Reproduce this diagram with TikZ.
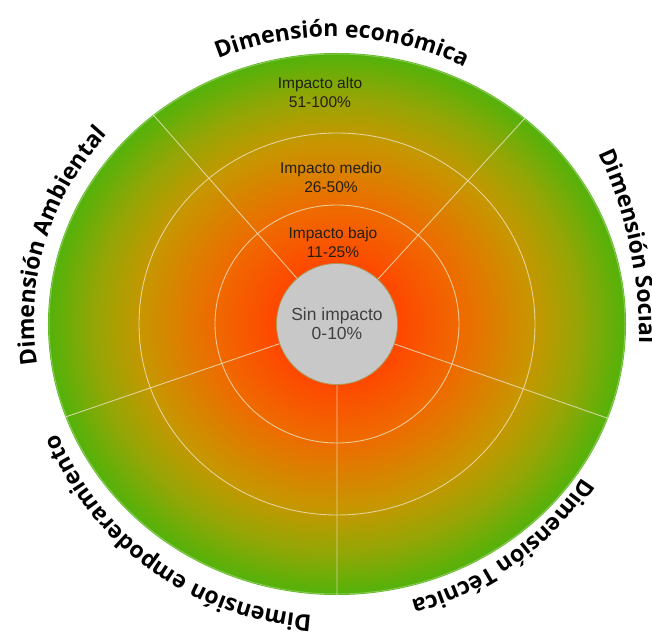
\documentclass[tikz,border=0pt]{standalone}
\usepackage{fontspec}
\setmainfont{Liberation Sans}
\newfontfamily\dimfont{Open Sans}
\usetikzlibrary{decorations.text}
\definecolor{ringline}{RGB}{236,226,190}
\definecolor{sinfill}{RGB}{200,200,200}
\definecolor{sindraw}{RGB}{176,150,80}
\definecolor{txtdark}{RGB}{35,30,20}
\pgfdeclareradialshading{impacto}{\pgfpoint{0bp}{0bp}}{rgb(0bp)=(1,0.2,0); rgb(5bp)=(1,0.27,0); rgb(10.5bp)=(0.94,0.41,0); rgb(17bp)=(0.78,0.59,0); rgb(21bp)=(0.58,0.65,0.02); rgb(25bp)=(0.32,0.70,0.04); rgb(50bp)=(0.32,0.70,0.04)}

\begin{document}
\begin{tikzpicture}[x=1pt,y=1pt,
    ring/.style={draw=ringline,line width=0.9pt,draw opacity=0.8},
    level/.style={font=\fontsize{15.5}{19}\selectfont,align=center,text=txtdark,inner sep=0},
    dimension/.style={decorate,decoration={text along path,text align=center,
      text={|\dimfont\bfseries\fontsize{23}{23}\selectfont|#1}}}]
  \useasboundingbox (-337,-307) rectangle (315,324);
  % disk and rings
  \shade[shading=impacto] (0,0) ellipse [x radius=289, y radius=271];
  \draw[ring] (0,0) ellipse [x radius=122, y radius=119] (0,0) ellipse [x radius=198, y radius=191];
  \begin{scope}
    \clip (0,0) ellipse [x radius=289, y radius=271];
    \draw[ring] (0,0) -- (131.3:320) (0,0) -- (47.6:320) (0,0) -- (-19.2:320)
      (0,0) -- (-90:320) (0,0) -- (-161.1:320);
  \end{scope}
  \draw[white,opacity=0.3,line width=1pt] (0,0) ellipse [x radius=288, y radius=270];
  % levels
  \node[circle,fill=sinfill,draw=sindraw,line width=0.8pt,minimum size=121,inner sep=0,
    font=\fontsize{17.5}{19}\selectfont,align=center,text={black!75}] (sin) at (0,0) {Sin impacto\\0-10\%};
  \node[level] (bajo) at (-4,81.5) {Impacto bajo\\11-25\%};
  \node[level] (medio) at (-6,146.5) {Impacto medio\\26-50\%};
  \node[level] (alto) at (-17,231.5) {Impacto alto\\51-100\%};
  % dimensions
  \path[dimension={Dimensión económica}] (-5,1) ++(148:296 and 286)
    arc [start angle=148, end angle=28, x radius=296, y radius=286];
  \path[dimension={Dimensión Social}] (-127,-11) ++(40:429)
    arc [start angle=40, end angle=-16, radius=429];
  \path[dimension={Dimensión Técnica}] (-5,1) ++(7:296 and 288)
    arc [start angle=7, end angle=-113, x radius=296, y radius=288];
  \path[dimension={Dimensión empoderamiento}] (-5,1) ++(-66:296 and 293)
    arc [start angle=-66, end angle=-186, x radius=296, y radius=293];
  \path[dimension={Dimensión Ambiental}] (-5,1) ++(224:298 and 286)
    arc [start angle=224, end angle=104, x radius=298, y radius=286];
\end{tikzpicture}
\end{document}
